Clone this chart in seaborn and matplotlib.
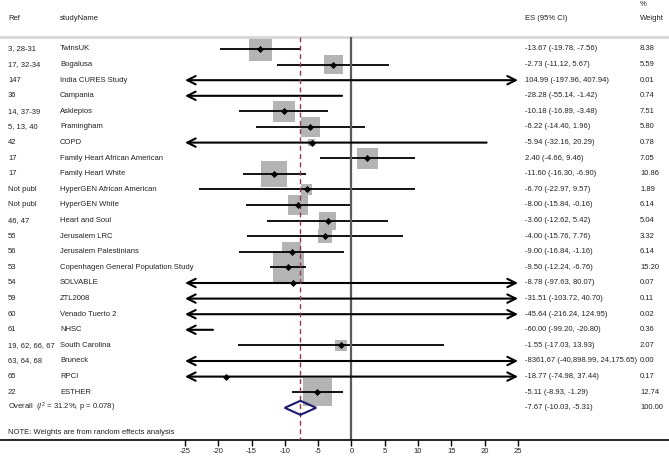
import numpy as np
import pandas as pd
import matplotlib
matplotlib.use("Agg")
import matplotlib.pyplot as plt
import matplotlib.transforms as mtransforms
import seaborn as sns

refs = ["3, 28-31", "17, 32-34", "147", "36", "14, 37-39", "5, 13, 40", "42", "17", "17",
        "Not publ", "Not publ", "46, 47", "55", "56", "53", "54", "59", "60", "61",
        "19, 62, 66, 67", "63, 64, 68", "65", "22"]
studies = ["TwinsUK", "Bogalusa", "India CURES Study", "Campania", "Asklepios", "Framingham",
           "COPD", "Family Heart African American", "Family Heart White",
           "HyperGEN African American", "HyperGEN White", "Heart and Soul", "Jerusalem LRC",
           "Jerusalem Palestinians", "Copenhagen General Population Study", "SOLVABLE",
           "ZTL2008", "Venado Tuerto 2", "NHSC", "South Carolina", "Bruneck", "RPCI", "ESTHER"]
es = [-13.67, -2.73, 104.99, -28.28, -10.18, -6.22, -5.94, 2.40, -11.60, -6.70, -8.00, -3.60,
      -4.00, -9.00, -9.50, -8.78, -31.51, -45.64, -60.00, -1.55, -8361.67, -18.77, -5.11]
lo = [-19.78, -11.12, -197.96, -55.14, -16.89, -14.40, -32.16, -4.66, -16.30, -22.97, -15.84,
      -12.62, -15.76, -16.84, -12.24, -97.63, -103.72, -216.24, -99.20, -17.03, -40898.99,
      -74.98, -8.93]
hi = [-7.56, 5.67, 407.94, -1.42, -3.48, 1.96, 20.29, 9.46, -6.90, 9.57, -0.16, 5.42, 7.76,
      -1.16, -6.76, 80.07, 40.70, 124.95, -20.80, 13.93, 24175.65, 37.44, -1.29]
weights = [8.38, 5.59, 0.01, 0.74, 7.51, 5.80, 0.78, 7.05, 10.86, 1.89, 6.14, 5.04, 3.32,
           6.14, 15.20, 0.07, 0.11, 0.02, 0.36, 2.07, 0.00, 0.17, 12.74]
ci_labels = ["-13.67 (-19.78, -7.56)", "-2.73 (-11.12, 5.67)", "104.99 (-197.96, 407.94)",
             "-28.28 (-55.14, -1.42)", "-10.18 (-16.89, -3.48)", "-6.22 (-14.40, 1.96)",
             "-5.94 (-32.16, 20.29)", "2.40 (-4.66, 9.46)", "-11.60 (-16.30, -6.90)",
             "-6.70 (-22.97, 9.57)", "-8.00 (-15.84, -0.16)", "-3.60 (-12.62, 5.42)",
             "-4.00 (-15.76, 7.76)", "-9.00 (-16.84, -1.16)", "-9.50 (-12.24, -6.76)",
             "-8.78 (-97.63, 80.07)", "-31.51 (-103.72, 40.70)", "-45.64 (-216.24, 124.95)",
             "-60.00 (-99.20, -20.80)", "-1.55 (-17.03, 13.93)",
             "-8361.67 (-40,898.99, 24,175.65)", "-18.77 (-74.98, 37.44)",
             "-5.11 (-8.93, -1.29)"]
overall_es, overall_lo, overall_hi = -7.67, -10.03, -5.31
overall_label = "-7.67 (-10.03, -5.31)"
overall_weight = "100.00"
xticks = [-25, -20, -15, -10, -5, 0, 5, 10, 15, 20, 25]

sns.set_theme(style="white")
plt.rcParams['font.family'] = ['Liberation Sans', 'DejaVu Sans']
plt.rcParams['axes.unicode_minus'] = False
plt.rcParams['mathtext.fontset'] = 'custom'
plt.rcParams['mathtext.rm'] = 'Liberation Sans'
plt.rcParams['mathtext.it'] = 'Liberation Sans:italic'

FS = 5.5
W, H = 669, 457
fig = plt.figure(figsize=(W / 100, H / 100), dpi=100)
axis_px = 440
ax = fig.add_axes([0, (H - axis_px) / H, 1, axis_px / H])

xmin_data, xmax_data = -25, 25
px_left, px_right = 185, 518
ppu = (px_right - px_left) / (xmax_data - xmin_data)
ax.set_xlim(xmin_data - px_left / ppu, xmin_data + (W - px_left) / ppu)
row_h = 15.6
y0 = 49
ax.set_ylim((axis_px - y0) / row_h, -y0 / row_h)

n = len(studies)
df = pd.DataFrame({"ref": refs, "study": studies, "es": es, "lo": lo, "hi": hi,
                   "w": weights, "row": np.arange(n)})

line_kw = dict(color="black", lw=1.3, solid_capstyle="butt")
for _, r in df.iterrows():
    left_clip = r.lo < xmin_data
    right_clip = r.hi > xmax_data
    a = max(r.lo, xmin_data)
    b = min(r.hi, xmax_data)
    if left_clip and right_clip:
        style = "<->"
    elif left_clip:
        style = "<-"
    elif right_clip:
        style = "->"
    else:
        style = None
    if style is None:
        ax.plot([a, b], [r.row, r.row], **line_kw)
    else:
        ax.annotate("", xy=(b, r.row), xytext=(a, r.row),
                    arrowprops=dict(arrowstyle=style + ",head_length=0.5,head_width=0.25",
                                    color="black", lw=1.5, shrinkA=0, shrinkB=0))

inside = df[(df.es >= xmin_data) & (df.es <= xmax_data)]
sq_pt = 7.95 * 0.72
sns.scatterplot(x=inside.es, y=inside.row, s=(sq_pt ** 2) * inside.w, marker="s",
                color="#b4b4b4", linewidth=0, ax=ax, zorder=1, legend=False)
sns.scatterplot(x=inside.es, y=inside.row, s=13, marker="D", color="black",
                linewidth=0, ax=ax, zorder=4, legend=False)

# overall diamond
orow = n
dh = 0.45
ax.fill([overall_lo, overall_es, overall_hi, overall_es, overall_lo],
        [orow, orow - dh, orow, orow + dh, orow], facecolor="none",
        edgecolor="#1a1a6e", lw=1.5, zorder=5)

sep_y = (37 - y0) / row_h
ybot = (axis_px - y0) / row_h
ax.axhline(sep_y, color="#d8d8d8", lw=2)
ax.vlines(0, sep_y, ybot, colors="#5a5a5a", lw=1.6, zorder=2)
ax.vlines(overall_es, sep_y, ybot, colors="#8b3d4f", lw=1.0,
          linestyles=(0, (3.5, 2.5)), zorder=3)

tr = mtransforms.blended_transform_factory(ax.transAxes, ax.transData)
def txt(px, row, s, **kw):
    ax.text(px / W, row, s, transform=tr, fontsize=FS, va="center", ha="left",
            color="#222222", **kw)

hdr = (19 - y0) / row_h
txt(8, hdr, "Ref")
txt(60, hdr, "studyName")
txt(525, hdr, "ES (95% CI)")
txt(640, hdr, "Weight")
txt(640, (5 - y0) / row_h, "%")
for _, r in df.iterrows():
    txt(8, r.row, r.ref)
    txt(60, r.row, r.study)
    txt(525, r.row, ci_labels[r.row])
    txt(640, r.row, f"{r.w:.2f}")
txt(8, orow, r"Overall  ($I^2$ = 31.2%, p = 0.078)")
txt(525, orow, overall_label)
txt(640, orow, overall_weight)
txt(8, (432 - y0) / row_h, "NOTE: Weights are from random effects analysis")

ax.set_xticks(xticks)
ax.set_xticklabels([str(t) for t in xticks])
ax.set_yticks([])
ax.tick_params(axis="x", bottom=True, direction="out", length=4, width=1,
               pad=1.5, labelsize=FS, colors="black", labelcolor="#222222")
for s in ["top", "left", "right"]:
    ax.spines[s].set_visible(False)
ax.spines["bottom"].set_color("black")
ax.spines["bottom"].set_linewidth(1.2)
ax.set_xlabel("")
ax.set_ylabel("")
ax.patch.set_alpha(0)

fig.savefig("out.png", dpi=100)
